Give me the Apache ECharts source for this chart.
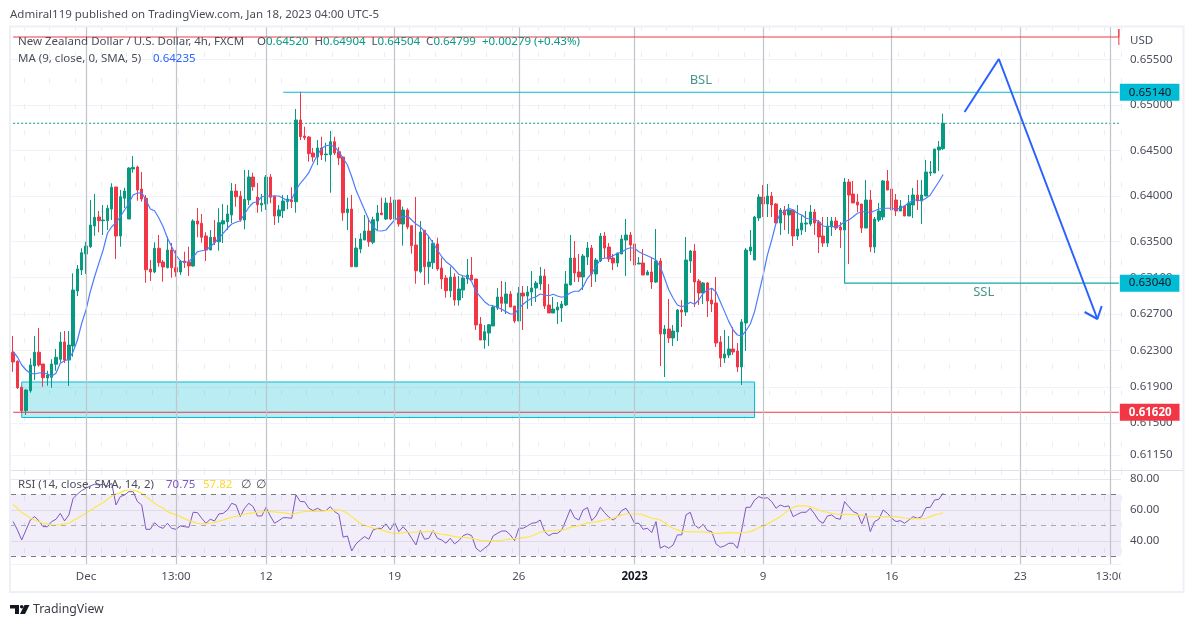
<!DOCTYPE html>
<html><head><meta charset="utf-8"><style>html,body{margin:0;padding:0;background:#fff}#c{width:1194px;height:627px}</style>
<script src="https://cdn.jsdelivr.net/npm/echarts@6/dist/echarts.min.js"></script></head><body><div id="c"></div>
<script>
// prices in 1e-5 units
const opens=[62280,62181,61895,61637,61857,62129,62280,62151,61997,62005,
62148,62203,62393,62195,62349,62954,63185,63361,63441,63669,
63768,63727,63727,63856,64098,63559,63974,63746,64296,64318,
64076,63974,63196,63163,63424,63273,63210,63405,63210,63163,
63284,63273,63229,63724,63699,63559,63405,63545,63496,63691,
63716,63790,64054,63999,63735,63955,64208,63988,63900,63911,
64208,63999,63779,63837,63936,63955,63936,64835,64659,64648,
64472,64428,64527,64453,64453,64596,64486,64428,63815,63856,
63221,63416,63515,63614,63490,63724,63812,63746,63922,63746,
63955,63691,63845,63672,63460,63166,63622,63221,63265,63471,
63207,63097,62957,63108,62855,62965,63086,63130,63086,62591,
62415,62492,62569,62767,62888,62819,62921,62789,62624,62932,
62899,62943,62987,63031,63119,62800,62712,62745,62767,62800,
63020,63317,63163,63108,63328,63427,63141,63284,63559,63438,
63317,63262,63361,63515,63570,63471,63251,63262,63130,63163,
63053,63284,62481,62536,62437,62503,62745,62723,63284,63394,
63064,62932,63042,62855,62822,62393,62217,62250,62316,62294,
62118,62602,63394,63295,63757,63988,63911,63999,63911,63702,
63845,63790,63845,63559,63625,63691,63691,63823,63713,63559,
63482,63658,63724,63658,63625,64153,64021,63933,63911,63647,
63955,63438,63735,63768,64164,64076,63955,63834,63889,63779,
63900,64010,63944,63999,64252,64252,64505,64520];
const closes=[62173,61890,61637,61865,62140,62280,62140,62000,62030,62151,
62225,62393,62195,62360,62965,63196,63375,63449,63680,63765,
63727,63735,63864,64095,63559,63991,64054,64307,64315,64065,
63966,63188,63163,63424,63265,63218,63405,63210,63163,63281,
63265,63229,63724,63691,63545,63405,63545,63490,63705,63727,
63801,64054,63991,63735,63963,64208,64101,63903,63919,64208,
63985,63779,63845,63944,63966,63936,64835,64651,64640,64464,
64428,64527,64450,64461,64596,64472,64417,63815,63856,63221,
63427,63526,63614,63496,63738,63812,63793,63922,63746,63955,
63691,63845,63658,63452,63177,63603,63221,63273,63479,63196,
63086,62957,63108,62855,62976,63097,63130,63075,62580,62415,
62506,62583,62778,62888,62819,62921,62778,62624,62932,62899,
62943,62987,63042,63119,62789,62712,62756,62778,62811,63031,
63317,63152,63108,63339,63427,63141,63295,63559,63427,63306,
63262,63372,63526,63570,63460,63240,63262,63130,63163,63053,
63284,62481,62536,62437,62514,62745,62723,63295,63394,63053,
62932,63042,62844,62811,62382,62217,62261,62316,62283,62118,
62613,63405,63438,63768,63988,63911,63999,63900,63702,63845,
63790,63845,63559,63636,63702,63702,63823,63702,63548,63482,
63669,63724,63647,63625,64153,64010,63922,63900,63647,63955,
63438,63746,63834,64164,64065,63845,63834,63889,63779,63922,
64010,63944,64010,64263,64263,64516,64538,64799];
const lows=[62066,61876,61612,61590,61835,61975,62121,61901,61912,61890,
62077,62170,62162,61909,62231,62899,63130,63141,63427,63562,
63600,63570,63625,63735,63306,63441,63867,63746,64255,63947,
63936,63045,63064,63150,63221,63056,63204,63100,63111,63130,
63207,63119,63221,63545,63485,63284,63405,63460,63397,63482,
63625,63702,63881,63716,63633,63900,64057,63815,63826,63845,
63919,63680,63705,63757,63853,63867,63815,64615,64615,64376,
64376,64340,64395,64376,64035,64450,64340,63727,63625,63221,
63221,63369,63515,63441,63468,63625,63793,63735,63735,63716,
63661,63452,63633,63364,63034,63149,63020,63034,63196,63177,
62976,62880,62885,62792,62792,62877,63031,63075,62525,62415,
62319,62349,62569,62745,62723,62701,62778,62602,62624,62525,
62756,62789,62833,62965,62756,62712,62712,62591,62613,62789,
63020,63053,63053,62965,63240,62998,63053,63273,63317,63273,
63185,63218,63361,63119,63284,63229,63251,63130,63130,62976,
63042,62129,62008,62382,62349,62404,62558,62679,63152,62778,
62800,62811,62668,62723,62338,62118,62162,62217,62250,62063,
61920,62294,63350,63295,63724,63768,63768,63768,63702,63570,
63625,63581,63449,63515,63570,63603,63669,63570,63372,63438,
63438,63559,63625,63427,63625,63251,63922,63823,63592,63647,
63383,63372,63713,63735,64065,63636,63779,63834,63779,63779,
63757,63845,63691,63999,64219,64252,64274,64504];
const highs=[62459,62190,61900,61873,62214,62459,62547,62151,62077,62203,
62316,62503,62514,62514,63149,63240,63424,63496,63955,64021,
63834,63900,63900,64139,64098,64065,64090,64315,64439,64332,
64263,64010,63295,63490,63570,63295,63551,63482,63405,63295,
63386,63441,63743,63867,63801,63600,63625,63735,63864,63911,
63900,64142,64131,64054,64285,64285,64255,64142,64021,64230,
64241,63999,63900,64010,64010,64095,64956,65146,64761,64659,
64527,64615,64651,64585,64714,64651,64535,64428,63980,64010,
63537,63589,63790,63760,63771,63900,63980,63980,63991,64109,
63955,63881,63864,63680,63988,63724,63622,63551,63515,63540,
63320,63130,63221,63149,63119,63119,63306,63328,63086,62668,
62580,62591,62800,62987,63064,63053,62954,62789,62998,63009,
63009,63174,63064,63218,63196,63031,62888,62833,62844,63174,
63570,63504,63361,63361,63493,63460,63317,63592,63603,63482,
63361,63372,63570,63746,63603,63471,63328,63416,63185,63317,
63636,63317,62580,62866,62580,62756,62855,63548,63405,63471,
63086,63053,63053,62976,63108,62459,62525,62459,62558,62382,
62646,63427,63625,63779,64021,64120,64131,64043,63922,63867,
63889,63911,63845,63900,63790,63834,63900,63856,63735,63768,
63768,63768,63768,63713,64197,64186,64164,64021,63911,64175,
64065,63768,63922,64175,64285,64087,64021,63955,63889,64010,
64087,64175,64175,64395,64384,64516,64604,64904];
const ma=[62286,62228,62140,62085,62049,62041,62052,62055,62041,62019,
62049,62159,62187,62203,62286,62415,62599,62745,62946,63111,
63259,63405,63589,63661,63705,63771,63845,63919,64010,64032,
64035,63955,63856,63837,63757,63661,63537,63441,63350,63284,
63270,63276,63325,63386,63397,63405,63441,63485,63534,63589,
63644,63691,63710,63727,63801,63875,63925,63936,63991,63999,
63999,63999,63999,63974,63947,63963,64065,64139,64194,64255,
64359,64450,64524,64552,64560,64541,64486,64414,64340,64211,
64065,63955,63845,63735,63661,63617,63614,63625,63680,63735,
63760,63771,63779,63735,63691,63661,63606,63551,63479,63405,
63331,63276,63240,63193,63138,63122,63111,63056,62946,62891,
62836,62800,62792,62775,62753,62727,62701,62701,62764,62808,
62847,62874,62891,62921,62910,62902,62918,62899,62885,62899,
62935,62951,62951,63001,63094,63149,63221,63303,63314,63320,
63342,63369,63380,63413,63430,63424,63386,63361,63342,63320,
63295,63221,63094,62965,62874,62800,62781,62800,62830,62808,
62855,62929,62965,62984,62946,62836,62727,62617,62525,62470,
62459,62517,62591,62727,62929,63130,63350,63515,63699,63809,
63826,63864,63845,63809,63790,63754,63746,63743,63716,63669,
63661,63669,63650,63680,63716,63735,63771,63809,63826,63826,
63815,63837,63856,63864,63864,63864,63853,63864,63889,63925,
63955,63955,63947,63974,64010,64084,64156,64235];
const rsi=[52.4,47,40.5,47,53.4,55.6,53,49.1,49.1,52.4,
53.9,57.7,52.8,56.7,67.4,70.2,72.4,73.9,75.4,76.5,
76,76.5,75,77.1,63.1,68.5,69.6,71.7,71.7,65.3,
63.1,47.4,47.4,51.7,49.1,48,51.3,48,47.4,49.6,
49.1,48.7,58.4,58.2,54.5,51.3,53.9,52.8,57.3,57.7,
59.9,64.2,63.1,55.6,61,64.2,62,56,56,61.6,
56,51.3,53,54.9,54.9,54.5,69.6,65.3,65.3,61,
59.5,61,59.5,59.5,62,58.8,57.1,42.3,43.1,33.4,
38,40.5,42.7,41,47,48,48,50.9,47,51.9,
45.9,49.1,45.9,41.6,37.3,46.6,41,41.6,46.6,41.6,
40.5,38.4,41.6,38,40.1,43.3,44.4,43.3,35.2,33,
35.2,37.3,43.1,44.8,46.3,46.3,43.8,40.1,48.1,48.1,
49.6,51.3,51.7,53.4,45.9,43.3,44.8,44.8,47,53.4,
60.3,54.9,53.4,59.9,61.4,53,56,61.6,58.2,55.2,
53.4,55.6,59.5,61,56.7,51.3,51.3,47.4,48.1,45.3,
52.4,35.2,36.7,35.2,37.3,43.8,43.8,56.7,58.4,50.2,
48.1,50.6,46.6,45.9,38,35.8,36.7,38.4,38.4,35.2,
47,61.6,61.6,66.3,68.5,67.4,67.8,65.3,61,63.1,
62,62.5,55.6,57.1,58.4,58.4,61,57.3,53,51.3,
56,56.7,54.5,53.9,65.3,62,58.8,57.7,50.9,57.7,
45.9,52.4,53.9,59.9,57.7,54.5,52.4,53,51.3,53.4,
55.6,54.5,55.6,61.4,61.6,66.3,66.8,70.75];
const rsiSma=[63.5,61,58.2,56.7,54.9,53.4,52.4,51.3,50.9,50.2,
50.2,50.4,50.9,51.3,53,54.5,56.2,57.7,59.5,61.4,
63.1,64.6,66.8,68.9,70.2,71.1,72.4,72.8,72.8,71.9,
70.6,68.5,66.3,64.2,62.5,61,58.8,57.7,56.9,55.6,
54.3,53,52.2,51.3,50.9,50.9,51.3,51.7,52.6,53.4,
54.3,55.2,55.8,56.5,57.3,57.7,58.2,58.4,58.6,58.8,
58.8,58.6,58.4,58.2,57.7,57.1,57.7,58.4,58.8,59,
59,59,59.2,59.5,59.5,59.9,59.9,59.2,57.7,55.6,
53.4,51.3,50,49.1,48.1,47.6,47,45.9,45.3,44.8,
44.8,45.3,45.5,45.5,45.5,45.7,45.7,45.9,45.9,44.8,
44.2,43.8,43.3,42.7,42.3,42,42,41.6,41,40.3,
40.1,39.9,40.1,40.1,40.3,40.8,41,41.4,41.6,42,
42.3,43.1,44.2,45.7,45.9,46.6,46.6,46.8,47,47.4,
48.7,49.1,49.8,50.6,51.7,51.9,52.2,52.8,53.4,54.1,
54.5,55.6,56.7,57.3,57.3,57.3,57.3,56.7,55.6,54.5,
54.3,53.4,51.7,49.6,48.1,47,45.9,45.9,45.9,45.7,
45.7,45.7,45.5,44.8,44.8,44.8,45.1,45.3,45.1,45.1,
45.3,45.5,45.9,47,48.5,49.6,50.9,52.4,53.9,55.6,
57.7,59.9,61.6,62.5,62.5,62.5,62,61,59.9,58.8,
58.4,57.7,57.3,57.1,57.1,57.1,56.9,56.7,56.5,56,
55.6,55.6,55.6,55.6,55.6,55.6,55.6,55.2,54.7,54.3,
54.1,54.3,54.3,54.5,55.6,56.7,57.3,57.82];
const SLOTS=259;
const tickSlots=[17,38,59,89,118,145,175,205,235,256];
const tickNames=['Dec','13:00','12','19','26','2023','9','16','23','13:00'];
const priceTicks=[0.655,0.65,0.645,0.64,0.635,0.631,0.627,0.623,0.619,0.615,0.6115];
const rsiTicks=[40,60,80];
const levelBSL=0.6514, levelSSL=0.6304, levelLow=0.6162, levelTop=0.65748, lastClose=0.64799;

const P=v=>v/1e5;
const TEXT='#4a4e59', FONT='"Noto Sans",sans-serif', FS=11.5, UP='#089981', DOWN='#f23645', CY='#00bcd4';
const GRIDC='#f0f3fa', MAJOR='#c2c4cb';
const categories=Array.from({length:SLOTS},(_,i)=>{const k=tickSlots.indexOf(i);return k>=0?tickNames[k]:''+i;});
const candle=opens.map((o,i)=>[P(o),P(closes[i]),P(lows[i]),P(highs[i])]);
const isTick=i=>tickSlots.indexOf(i)>=0;

function xAxisBase(g,show){return {type:'category',gridIndex:g,data:categories,axisLine:{show:false},axisTick:{show:false},
 axisLabel:{show:false},splitLine:{show:true,interval:i=>i%6===3,lineStyle:{color:'#e9eef8',width:1,type:[5,21]}}};}
const mkMajor=(xi,yi)=>({type:'line',xAxisIndex:xi,yAxisIndex:yi,data:[[0,null]],z:1,silent:true,showSymbol:false,
 markLine:{silent:true,symbol:'none',animation:false,label:{show:false},lineStyle:{color:MAJOR,width:1.2,type:'solid'},data:tickSlots.map(i=>({xAxis:i}))}});
const over=(data,color,opt)=>Object.assign({type:'line',xAxisIndex:0,yAxisIndex:0,data,z:6,silent:true,showSymbol:false,symbol:'none',
 lineStyle:{color,width:1},itemStyle:{color}},opt||{});
const priceTag=(v,bg,fg,bold)=>({show:true,formatter:()=>v.toFixed(5),backgroundColor:bg,color:fg,fontFamily:FONT,fontSize:FS,fontWeight:bold?'bold':'normal',padding:[3,8,2,9],distance:1,align:'left',verticalAlign:'middle'});
const note=(t,i,p)=>({type:'scatter',xAxisIndex:0,yAxisIndex:0,data:[[i,p]],symbolSize:0,z:7,silent:true,label:{show:true,position:'inside',offset:[2,0],formatter:t,color:'#177a6a',fontFamily:FONT,fontSize:13}});

const txt=(x,y,text,fill,extra)=>({type:'text',x,y,z:50,silent:true,style:Object.assign({text,fill,fontFamily:FONT,fontSize:FS,textVerticalAlign:'middle'},extra||{})});
const c=echarts.init(document.getElementById('c'),null,{renderer:'canvas'});
c.setOption({animation:false,backgroundColor:'#fff',
 grid:[{left:11,width:1110,top:26,height:444},{left:11,width:1110,top:470,height:94}],
 xAxis:[xAxisBase(0),
  Object.assign(xAxisBase(1),{axisLine:{show:true,lineStyle:{color:GRIDC}},axisLabel:{show:true,interval:(i)=>isTick(i),margin:7,hideOverlap:false,color:TEXT,fontFamily:FONT,fontSize:FS,
    formatter:v=>v==='2023'?'{b|2023}':v,rich:{b:{fontWeight:'bold',color:'#131722',fontSize:FS,fontFamily:FONT}}}})],
 yAxis:[{type:'value',gridIndex:0,position:'right',min:0.60985,max:0.65869,axisLine:{show:false},
   axisTick:{show:false,customValues:priceTicks},splitLine:{show:true,lineStyle:{color:GRIDC}},
   axisLabel:{customValues:priceTicks,margin:9,color:TEXT,fontFamily:FONT,fontSize:FS,formatter:v=>v.toFixed(5),showMinLabel:true,showMaxLabel:true}},
  {type:'value',gridIndex:1,position:'right',min:25,max:85.7,axisLine:{show:false},
   axisTick:{show:false,customValues:rsiTicks},splitLine:{show:true,lineStyle:{color:'#e9e8f2'}},
   axisLabel:{customValues:rsiTicks,margin:9,color:TEXT,fontFamily:FONT,fontSize:FS,formatter:v=>v.toFixed(2)}}],
 series:[mkMajor(0,0),mkMajor(1,1),
  {type:'candlestick',xAxisIndex:0,yAxisIndex:0,data:candle,barWidth:3,z:3,silent:true,
   itemStyle:{color:UP,color0:DOWN,borderColor:UP,borderColor0:DOWN,borderWidth:1}},
  {type:'line',xAxisIndex:0,yAxisIndex:0,data:ma.map(P),z:4,silent:true,showSymbol:false,symbol:'none',lineStyle:{color:'#4d7cff',width:1.2}},
  over([[0,lastClose],[258,lastClose]],UP,{lineStyle:{color:UP,width:1,type:[2,2]},z:2}),
  over([[0,levelTop],[258,levelTop],[258,0.65836],[258,0.6566]],DOWN),
  over([[63,levelBSL],[258,levelBSL]],CY,{lineStyle:{color:CY,width:1.2},endLabel:priceTag(levelBSL,CY,'#131722')}),
  over([[194,0.63625],[194,levelSSL],[258,levelSSL]],'#12a9a6',{lineStyle:{color:'#12a9a6',width:1.2},endLabel:priceTag(levelSSL,CY,'#131722')}),
  over([[0,levelLow],[258,levelLow]],DOWN,{z:4,endLabel:priceTag(levelLow,DOWN,'#fff',true)}),
  over([[222,0.64923],[230,0.65506],[253,0.62646]],'#2962ff',{lineStyle:{color:'#2962ff',width:2}}),
  over([[250,0.62723],[253,0.62646],[254,0.62789]],'#2962ff',{lineStyle:{color:'#2962ff',width:2}}),
  note('BSL',160,0.65275),note('SSL',226,0.62943),
  {type:'line',xAxisIndex:0,yAxisIndex:0,data:[[0,null]],z:5,silent:true,showSymbol:false,
   markArea:{silent:true,itemStyle:{color:'rgba(0,188,212,0.27)',borderColor:CY,borderWidth:1},data:[[{coord:[2,0.61953]},{coord:[173,0.61563]}]]}},
  {type:'line',xAxisIndex:1,yAxisIndex:1,data:rsi,z:4,silent:true,showSymbol:false,symbol:'none',lineStyle:{color:'#7e57c2',width:1},
   markArea:{silent:true,itemStyle:{color:'rgba(126,87,194,0.1)'},data:[[{yAxis:70},{yAxis:30}]]},
   markLine:{silent:true,symbol:'none',label:{show:false},data:[
     {yAxis:70,lineStyle:{color:'#787b86',type:[5,5],width:1}},
     {yAxis:50,lineStyle:{color:'#a9abb3',type:[5,5],width:1}},
     {yAxis:30,lineStyle:{color:'#787b86',type:[5,5],width:1}}]}},
  {type:'line',xAxisIndex:1,yAxisIndex:1,data:rsiSma,z:4,silent:true,showSymbol:false,symbol:'none',lineStyle:{color:'#fde74c',width:1.2}}],
 graphic:{elements:[
  {type:'rect',z:40,silent:true,shape:{x:1120.5,y:565,width:62,height:25},style:{fill:'#fff'}},
  {type:'rect',z:41,silent:true,shape:{x:10,y:26.5,width:1173.5,height:565.5},style:{fill:'none',stroke:'#eef0f6',lineWidth:2}},
  {type:'line',z:41,silent:true,shape:{x1:11,y1:470.5,x2:1183,y2:470.5},style:{stroke:'#dfe1ec',lineWidth:1}},
  txt(10,15,'Admiral119 published on TradingView.com, Jan 18, 2023 04:00 UTC-5',TEXT),
  txt(18,42,'New Zealand Dollar / U.S. Dollar, 4h, FXCM',TEXT),
  txt(257,42,'{k|O}{v|0.64520}  {k|H}{v|0.64904}  {k|L}{v|0.64504}  {k|C}{v|0.64799}  {v|+0.00279 (+0.43%)}',TEXT,{rich:{k:{fill:TEXT,fontFamily:FONT,fontSize:FS},v:{fill:UP,fontFamily:FONT,fontSize:FS}}}),
  txt(18,59,'MA (9, close, 0, SMA, 5)',TEXT),
  txt(153,59,'0.64235','#2962ff'),
  txt(18,485,'RSI (14, close, SMA, 14, 2)',TEXT),
  txt(166,485,'70.75','#7e57c2'),
  txt(203,485,'57.82','#fdd835'),
  txt(241,485,'∅',TEXT),
  txt(256,485,'∅',TEXT),
  txt(1130,41,'USD',TEXT),
  {type:'polygon',z:50,silent:true,shape:{points:[[10,605],[19,605],[19,614],[15,614],[15,608.5],[10,608.5]]},style:{fill:'#131722'}},
  {type:'circle',z:50,silent:true,shape:{cx:21.7,cy:606.8,r:1.8},style:{fill:'#131722'}},
  {type:'polygon',z:50,silent:true,shape:{points:[[24.5,605],[29.5,605],[25,614],[20,614]]},style:{fill:'#131722'}},
  txt(33,609.5,'TradingView','#3a3d45',{fontSize:12.3})
 ]}
});
</script></body></html>
